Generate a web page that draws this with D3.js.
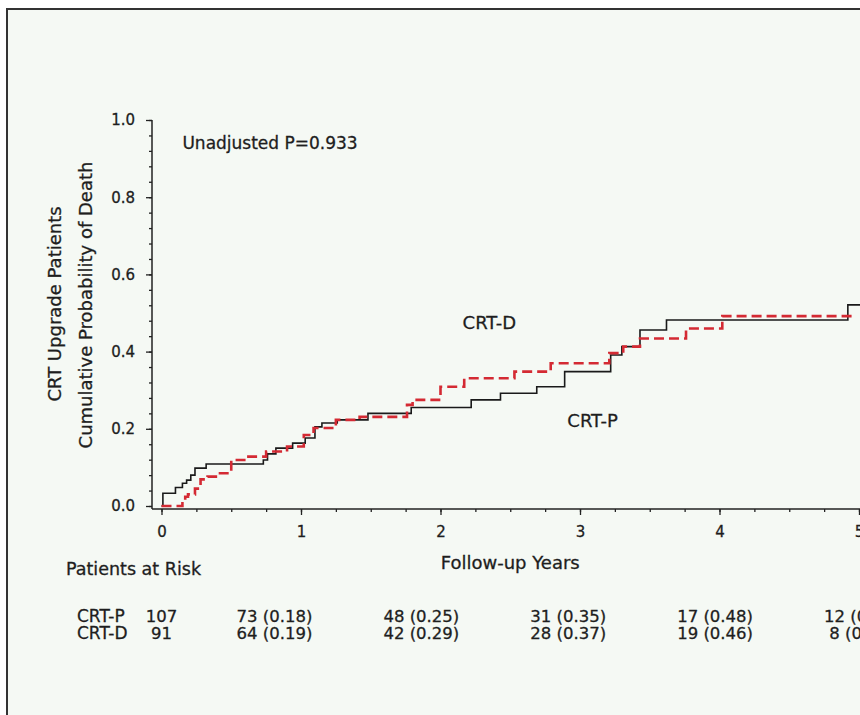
<!DOCTYPE html>
<html><head><meta charset="utf-8">
<script src="https://cdn.jsdelivr.net/npm/d3@7/dist/d3.min.js"></script>
<style>
body{margin:0;background:#fff}
svg{display:block}
text{font-family:"DejaVu Sans",Verdana,sans-serif;fill:#1e1e1e;stroke:#1e1e1e;stroke-width:0.3}
</style>
</head><body>
<svg id="c" width="860" height="715"></svg>
<script>
// ---- data ----
const crtP_t = [0, 0.01, 0.10, 0.15, 0.18, 0.21, 0.24, 0.32, 0.73, 0.76, 0.82, 0.94, 1.03, 1.10, 1.15, 1.26, 1.48, 1.79, 2.22, 2.43, 2.69, 2.89, 3.22, 3.30, 3.43, 3.62, 4.92, 5.10];
const crtP_p = [0, 0.033, 0.048, 0.059, 0.067, 0.080, 0.098, 0.109, 0.119, 0.135, 0.150, 0.163, 0.176, 0.205, 0.215, 0.223, 0.240, 0.255, 0.275, 0.292, 0.309, 0.348, 0.391, 0.413, 0.456, 0.482, 0.521, 0.521];
const crtD_t = [0, 0.15, 0.17, 0.19, 0.24, 0.28, 0.33, 0.40, 0.50, 0.61, 0.75, 0.90, 1.02, 1.09, 1.25, 1.42, 1.76, 1.80, 2.00, 2.17, 2.53, 2.79, 3.21, 3.31, 3.43, 3.76, 4.02, 4.95];
const crtD_p = [0, 0.012, 0.024, 0.030, 0.045, 0.069, 0.076, 0.085, 0.119, 0.128, 0.141, 0.154, 0.184, 0.202, 0.223, 0.231, 0.262, 0.275, 0.309, 0.331, 0.348, 0.370, 0.396, 0.413, 0.434, 0.460, 0.492, 0.492];
const xTicks = [0, 1, 2, 3, 4, 5];
const yTicks = [0, 0.2, 0.4, 0.6, 0.8, 1.0];
const riskYears = [0, 1, 2, 3, 4, 5];
const riskP = ["107", "73 (0.18)", "48 (0.25)", "31 (0.35)", "17 (0.48)", "12 (0.52)"];
const riskD = ["91", "64 (0.19)", "42 (0.29)", "28 (0.37)", "19 (0.46)", "8 (0.49)"];
const groupNames = ["CRT-P", "CRT-D"];
const pText = "Unadjusted P=0.933";

// ---- layout ----
const svg = d3.select("#c");
const bg = "#f5f9f4";
svg.append("rect").attr("x", 7).attr("y", 9).attr("width", 900).attr("height", 800)
  .attr("fill", bg).attr("stroke", "#333").attr("stroke-width", 2);

const x = d3.scaleLinear().domain([0, 5]).range([161.5, 859]);
const y = d3.scaleLinear().domain([0, 1]).range([506, 120]);
const axisX = 152, axisY = 509;

// y axis
const gy = svg.append("g").attr("transform", `translate(${axisX},0)`);
gy.call(d3.axisLeft(y).tickValues(d3.range(0, 1.0001, 0.04)).tickSize(3).tickFormat(""));
gy.select(".domain").remove();
const gy2 = svg.append("g").attr("transform", `translate(${axisX},0)`);
gy2.call(d3.axisLeft(y).tickValues(yTicks).tickSize(6).tickPadding(11).tickFormat(d3.format(".1f")));
gy2.select(".domain").remove();
gy2.selectAll("text").attr("font-size", 15).attr("font-family", "DejaVu Sans");
svg.append("line").attr("x1", axisX).attr("x2", axisX).attr("y1", y(1)).attr("y2", axisY)
  .attr("stroke", "#222").attr("stroke-width", 1.5);

// x axis
const gx = svg.append("g").attr("transform", `translate(0,${axisY})`);
gx.call(d3.axisBottom(x).tickValues(d3.range(0, 5.001, 0.25)).tickSize(3).tickFormat(""));
gx.select(".domain").remove();
const gx2 = svg.append("g").attr("transform", `translate(0,${axisY})`);
gx2.call(d3.axisBottom(x).tickValues(xTicks).tickSize(6).tickPadding(11).tickFormat(d3.format("d")));
gx2.select(".domain").remove();
gx2.selectAll("text").attr("font-size", 15).attr("font-family", "DejaVu Sans");
svg.selectAll(".tick line").attr("stroke", "#222").attr("stroke-width", 1.3);
svg.append("line").attr("x1", axisX).attr("x2", 860).attr("y1", axisY).attr("y2", axisY)
  .attr("stroke", "#222").attr("stroke-width", 1.5);

// curves
const line = d3.line().x(d => x(d[0])).y(d => y(d[1])).curve(d3.curveStepAfter);
const pData = crtP_t.map((t, i) => [t, crtP_p[i]]);
const dData = crtD_t.map((t, i) => [t, crtD_p[i]]);
svg.append("path").datum(pData).attr("d", line).attr("fill", "none")
  .attr("stroke", "#1a1a1a").attr("stroke-width", 1.6);
svg.append("path").datum(dData).attr("d", line).attr("fill", "none")
  .attr("stroke", "#d42a33").attr("stroke-width", 2.6).attr("stroke-dasharray", "10,5");

// annotations
svg.append("text").attr("x", x(0.15)).attr("y", y(0.925)).attr("font-size", 17).text(pText);
svg.append("text").attr("x", x(2.35)).attr("y", y(0.458)).attr("text-anchor", "middle").attr("font-size", 18).text(groupNames[1]);
svg.append("text").attr("x", x(3.09)).attr("y", y(0.205)).attr("text-anchor", "middle").attr("font-size", 18).text(groupNames[0]);

// axis titles
const ymid = (y(0) + y(1)) / 2;
svg.append("text").attr("transform", `translate(61,${ymid - 9}) rotate(-90)`).attr("text-anchor", "middle")
  .attr("font-size", 18).text("CRT Upgrade Patients");
svg.append("text").attr("transform", `translate(92,${ymid - 8}) rotate(-90)`).attr("text-anchor", "middle")
  .attr("font-size", 18).text("Cumulative Probability of Death");
svg.append("text").attr("x", x(2.5)).attr("y", 569).attr("text-anchor", "middle")
  .attr("font-size", 18).attr("stroke-width", 0.6).text("Follow-up Years");
svg.append("text").attr("x", 66).attr("y", 575).attr("font-size", 17.5).attr("stroke-width", 0.6).text("Patients at Risk");

// risk table
const rx = d3.scaleLinear().domain([1, 5]).range([274.5, 862]);
const colX = yr => yr === 0 ? x(0) : rx(yr);
const rows = [[groupNames[0], riskP, 622], [groupNames[1], riskD, 639]];
rows.forEach(([name, vals, by]) => {
  svg.append("text").attr("x", 77).attr("y", by).attr("font-size", 17).text(name);
  svg.selectAll(null).data(riskYears).enter().append("text")
    .attr("x", d => colX(d)).attr("y", by).attr("text-anchor", "middle")
    .attr("font-size", 16.5).text((d, i) => vals[i]);
});
</script>
</body></html>
